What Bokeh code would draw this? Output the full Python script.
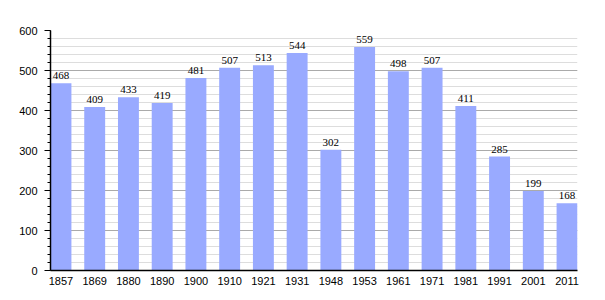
from bokeh.plotting import figure
from bokeh.models import ColumnDataSource, Range1d, FixedTicker, LabelSet
from bokeh.embed import file_html
from bokeh.resources import INLINE

years = ["1857", "1869", "1880", "1890", "1900", "1910", "1921", "1931",
         "1948", "1953", "1961", "1971", "1981", "1991", "2001", "2011"]
population = [468, 409, 433, 419, 481, 507, 513, 544, 302, 559, 498, 507, 411, 285, 199, 168]

idx = list(range(len(years)))
src = ColumnDataSource(dict(x=idx, top=population, lab=[str(v) for v in population]))

FONT = "Liberation Sans"
FS = "11px"
bw = 0.62
p = figure(width=605, height=300, output_backend="svg", toolbar_location=None,
           x_range=Range1d(-bw / 2, len(years) - 1 + bw / 2), y_range=Range1d(0, 600),
           min_border_left=50, min_border_right=28, min_border_top=30, min_border_bottom=30)
p.outline_line_color = None
p.background_fill_color = "white"

p.vbar(x="x", top="top", width=bw, source=src, fill_color="#99aaff", line_color=None)

labels = LabelSet(x="x", y="top", text="lab", source=src, text_align="center",
                  text_baseline="bottom", y_offset=4, text_font=FONT, text_font_size=FS,
                  text_color="#000000")
p.add_layout(labels)

# x axis
p.xaxis.ticker = FixedTicker(ticks=idx)
p.xaxis.major_label_overrides = {i: y for i, y in enumerate(years)}
p.xaxis.major_tick_line_color = None
p.xaxis.minor_tick_line_color = None
p.xaxis.axis_line_color = "black"
p.xaxis.axis_line_width = 1.5
p.xaxis.major_label_text_font = FONT
p.xaxis.major_label_text_font_size = FS
p.xaxis.major_label_text_color = "#000000"
p.xaxis.major_label_standoff = 0
p.xgrid.grid_line_color = None

# y axis
p.yaxis.ticker = FixedTicker(ticks=list(range(0, 601, 100)),
                             minor_ticks=list(range(0, 601, 20)))
p.yaxis.axis_line_color = "black"
p.yaxis.axis_line_width = 1.5
p.yaxis.major_tick_in = 0
p.yaxis.major_tick_out = 6
p.yaxis.minor_tick_in = 0
p.yaxis.minor_tick_out = 3
p.yaxis.major_tick_line_color = "black"
p.yaxis.minor_tick_line_color = "black"
p.yaxis.major_label_text_font = FONT
p.yaxis.major_label_text_font_size = FS
p.yaxis.major_label_text_color = "#000000"
p.yaxis.major_label_standoff = 7

p.ygrid.grid_line_color = "#aaaaaa"
p.ygrid.grid_line_width = 1
p.ygrid.minor_grid_line_color = "#dddddd"
p.ygrid.minor_grid_line_width = 1
p.ygrid.level = "underlay"

open("out.html", "w").write(file_html(p, INLINE))
